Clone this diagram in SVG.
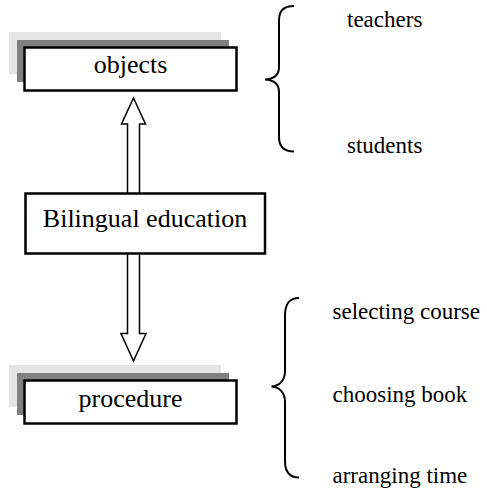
<svg xmlns="http://www.w3.org/2000/svg" width="487" height="489" viewBox="0 0 487 489">
<style>
.box{fill:#fff;stroke:#000;stroke-width:2.5}
.sh1{fill:#e5e5e5}
.sh2{fill:#808080}
.lbl{font-size:26px;fill:#000}
.item{font-size:23px;fill:#000}
.arrow{fill:#fff;stroke:#000;stroke-width:1.5;stroke-linejoin:miter}
.brace{fill:none;stroke:#000;stroke-width:2}
</style>
<rect width="487" height="489" fill="#fff"/>
<g id="connectors">
<path class="arrow" d="M127.5,193 L127.5,124 L121.5,124 L133.5,98 L145.5,124 L139.5,124 L139.5,193"/>
<path class="arrow" d="M127.5,254 L127.5,333.5 L121,333.5 L133.5,361 L146,333.5 L139.5,333.5 L139.5,254"/>
</g>
<g font-family="'Liberation Serif', 'Times New Roman', Times, serif">
<g id="objects">
<rect class="sh1" x="9" y="32" width="212" height="42"/>
<rect class="sh2" x="17" y="40" width="212" height="42"/>
<rect class="box" x="24.5" y="47.5" width="212" height="43"/>
<text class="lbl" x="130.5" y="73" text-anchor="middle">objects</text>
</g>
<g id="bilingual">
<rect class="box" x="25.5" y="193.5" width="239.5" height="60"/>
<text class="lbl" x="145" y="227" text-anchor="middle">Bilingual education</text>
</g>
<g id="procedure">
<rect class="sh1" x="9" y="365" width="212" height="42"/>
<rect class="sh2" x="17" y="373" width="212" height="42"/>
<rect class="box" x="24.5" y="380.5" width="212" height="43"/>
<text class="lbl" x="130.5" y="406.5" text-anchor="middle">procedure</text>
</g>
<g id="objects-brace">
<path class="brace" d="M294,6 C284,6 279,10 279,20 L279,67 C279,75 274,79 265,79.5 C274,80 279,84 279,92 L279,137 C279,147 284,151.5 294,151.5"/>
<text class="item" x="347" y="27">teachers</text>
<text class="item" x="347" y="153">students</text>
</g>
<g id="procedure-brace">
<path class="brace" d="M299,298 C289,298 285,304 285,316 L285,371 C285,380 280,386 271.5,386.5 C280,387 285,393 285,402 L285,461 C285,472 289,477.5 299,477.5"/>
<text class="item" x="332.5" y="319">selecting course</text>
<text class="item" x="332.5" y="401.5">choosing book</text>
<text class="item" x="332.5" y="483">arranging time</text>
</g>
</g>
</svg>
